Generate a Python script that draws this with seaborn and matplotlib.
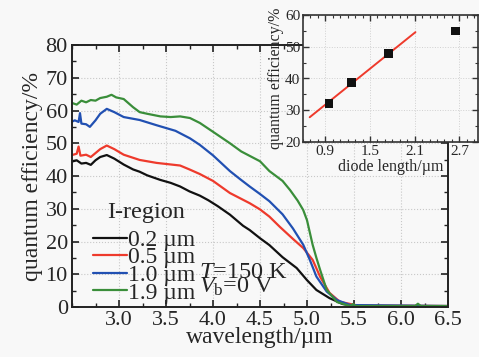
import numpy as np
import pandas as pd
import matplotlib
matplotlib.use("Agg")
import matplotlib.pyplot as plt
from matplotlib.ticker import MultipleLocator
import seaborn as sns

# ---------------- data ----------------
wl_02 = [2.50, 2.55, 2.60, 2.65, 2.70, 2.75, 2.80, 2.87, 2.95, 3.05, 3.15, 3.22, 3.30, 3.44, 3.55,
         3.65, 3.75, 3.86, 3.95, 4.05, 4.18, 4.32, 4.39, 4.50, 4.60, 4.74, 4.89, 5.00, 5.10, 5.24,
         5.38, 5.50, 5.80, 6.50]
qe_02 = [44.4, 44.8, 43.8, 44.0, 43.4, 44.8, 45.8, 46.4, 45.3, 43.5, 42.0, 41.3, 40.2, 38.8, 37.9,
         36.8, 35.3, 34.0, 32.6, 30.8, 28.2, 24.8, 23.5, 21.0, 18.9, 15.2, 11.9, 8.2, 5.2, 2.7,
         0.9, 0.4, 0.2, 0.2]

wl_05 = [2.50, 2.55, 2.57, 2.59, 2.65, 2.70, 2.75, 2.80, 2.87, 2.95, 3.05, 3.22, 3.40, 3.65, 3.75,
         3.86, 4.00, 4.18, 4.39, 4.50, 4.60, 4.71, 4.85, 4.96, 5.06, 5.14, 5.24, 5.35, 5.53, 6.50]
qe_05 = [46.4, 46.8, 49.0, 46.2, 46.5, 45.8, 47.0, 48.2, 49.3, 48.2, 46.5, 44.9, 44.0, 43.2, 42.0,
         40.6, 38.5, 34.8, 31.7, 29.8, 27.6, 24.5, 20.8, 18.0, 14.4, 9.2, 4.3, 1.6, 0.5, 0.3]

wl_10 = [2.50, 2.53, 2.57, 2.585, 2.60, 2.65, 2.69, 2.75, 2.80, 2.87, 2.95, 3.05, 3.22, 3.40, 3.60,
         3.755, 3.86, 4.00, 4.18, 4.29, 4.39, 4.50, 4.60, 4.74, 4.85, 4.96, 5.03, 5.10, 5.21, 5.32,
         5.46, 6.50]
qe_10 = [56.6, 57.0, 56.5, 59.2, 56.0, 55.8, 55.0, 57.0, 59.0, 60.5, 59.5, 58.0, 57.1, 55.5, 53.8,
         51.5, 49.5, 46.3, 41.5, 39.0, 36.8, 34.5, 32.3, 28.3, 24.0, 19.0, 14.4, 9.3, 4.7, 2.1,
         0.6, 0.3]

wl_19 = [2.50, 2.55, 2.60, 2.65, 2.70, 2.75, 2.80, 2.87, 2.92, 2.97, 3.05, 3.15, 3.22, 3.30, 3.44,
         3.55, 3.65, 3.755, 3.86, 4.00, 4.18, 4.30, 4.50, 4.60, 4.74, 4.82, 4.90, 4.96, 5.00, 5.06,
         5.10, 5.14, 5.21, 5.32, 5.46, 5.49, 5.52, 6.15, 6.18, 6.21, 6.50]
qe_19 = [62.3, 61.8, 63.0, 62.5, 63.2, 63.0, 63.8, 64.2, 64.8, 64.0, 63.5, 61.0, 59.5, 59.0, 58.2,
         58.0, 58.2, 57.7, 56.2, 53.5, 50.0, 47.5, 44.5, 41.5, 38.5, 35.7, 32.5, 29.6, 26.5, 19.0,
         15.0, 11.3, 5.2, 1.5, 0.3, 0.9, 0.3, 0.3, 1.0, 0.3, 0.3]

series_labels = ["0.2 µm", "0.5 µm", "1.0 µm", "1.9 µm"]
series_colors = ["#111111", "#ee3a2c", "#2150b2", "#3a8e3a"]

diode_len = [0.95, 1.25, 1.75, 2.65]
diode_qe = [32.2, 38.7, 47.8, 55.0]
fit_x = [0.69, 2.11]
fit_y = [27.8, 54.6]

# ---------------- style ----------------
sns.set_style("ticks")
plt.rcParams["font.family"] = ["Liberation Serif", "DejaVu Serif"]
plt.rcParams["mathtext.fontset"] = "custom"
plt.rcParams["mathtext.rm"] = "Liberation Serif"
plt.rcParams["mathtext.it"] = "Liberation Serif:italic"
plt.rcParams["axes.unicode_minus"] = False

bg = "#f8f8f8"
fig = plt.figure(figsize=(4.79, 3.57), dpi=100, facecolor=bg)

ax = fig.add_axes([72/479, 1-307/357, 376/479, 262/357])
ax.set_facecolor(bg)

frames = []
for wl, qe, lab in zip([wl_02, wl_05, wl_10, wl_19], [qe_02, qe_05, qe_10, qe_19], series_labels):
    frames.append(pd.DataFrame({"wavelength": wl, "qe": qe, "I-region": lab}))
df = pd.concat(frames, ignore_index=True)

sns.lineplot(data=df, x="wavelength", y="qe", hue="I-region", palette=series_colors,
             hue_order=series_labels, estimator=None, lw=1.6, ax=ax, legend=True)

ax.set_xlim(2.5, 6.5)
ax.set_ylim(0, 80)
ax.set_xticks([3.0, 3.5, 4.0, 4.5, 5.0, 5.5, 6.0, 6.5])
ax.set_xticklabels(["3.0", "3.5", "4.0", "4.5", "5.0", "5.5", "6.0", "6.5"])
ax.xaxis.set_minor_locator(MultipleLocator(0.25))
ax.set_yticks(range(0, 81, 10))
ax.yaxis.set_minor_locator(MultipleLocator(5))
ax.tick_params(which="both", direction="in", top=True, right=True, labelsize=16,
               color="#222222", pad=3)
ax.tick_params(which="major", length=5, width=1.2)
ax.tick_params(which="minor", length=3, width=1.0)
for s in ax.spines.values():
    s.set_linewidth(1.4)
    s.set_color("#222222")
ax.grid(True, which="major", ls=":", lw=0.8, color="#c8c8c8")
ax.set_xlabel("wavelength/µm", fontsize=17, labelpad=-2)
ax.set_ylabel("quantum efficiency/%", fontsize=17, labelpad=2)

leg = ax.legend(loc="upper left", bbox_to_anchor=(0.056, 0.296),
                frameon=False, fontsize=17, handlelength=1.45,
                handletextpad=0.05, labelspacing=-0.17, borderpad=0, borderaxespad=0)
for h in leg.get_lines():
    h.set_linewidth(1.6)
ax.text(0.198, 0.359, "I-region", transform=ax.transAxes, fontsize=17.5,
        ha="center", va="center")

ax.text(0.337, 0.111, "$T$=150 K", transform=ax.transAxes, fontsize=17.5, va="baseline")
ax.text(0.337, 0.053, r"$V_{\mathrm{b}}$=0 V", transform=ax.transAxes, fontsize=17.5, va="baseline")

# ---------------- inset ----------------
ins = fig.add_axes([303/479, 1-142/357, 175/479, 127/357])
ins.set_facecolor(bg)
ins.set_zorder(5)
sns.lineplot(x=fit_x, y=fit_y, color="#ee3a2c", lw=1.4, ax=ins, estimator=None)
sns.scatterplot(x=diode_len, y=diode_qe, marker="s", color="#111111", s=38, edgecolor="none",
                ax=ins, zorder=5)
ins.set_xlim(0.6, 2.95)
ins.set_ylim(20, 60)
ins.set_xticks([0.9, 1.5, 2.1, 2.7])
ins.set_xticklabels(["0.9", "1.5", "2.1", "2.7"])
ins.xaxis.set_minor_locator(MultipleLocator(0.1))
ins.set_yticks([20, 30, 40, 50, 60])
ins.yaxis.set_minor_locator(MultipleLocator(5))
ins.tick_params(which="both", direction="in", top=True, right=True, labelsize=11,
                color="#333333", pad=2)
ins.tick_params(which="major", length=4, width=1.0)
ins.tick_params(which="minor", length=2, width=0.8)
for s in ins.spines.values():
    s.set_linewidth(1.2)
    s.set_color("#333333")
ins.grid(True, which="major", ls=":", lw=0.7, color="#d0d0d0")
ins.set_xlabel("diode length/µm", fontsize=11.5, labelpad=1)
ins.set_ylabel("quantum efficiency/%", fontsize=11.5, labelpad=1)

fig.savefig("out.png", dpi=100, facecolor=bg)
